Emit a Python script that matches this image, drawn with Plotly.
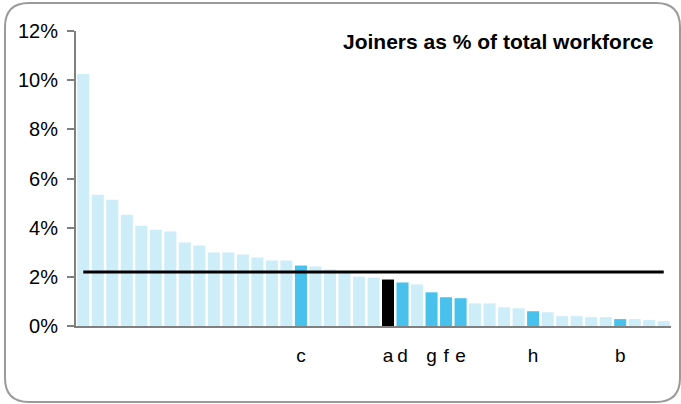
import plotly.graph_objects as go

# Joiners as a share of total workforce, one bar per organisation (sorted descending)
values = [10.25, 5.34, 5.14, 4.53, 4.08, 3.92, 3.84, 3.40, 3.27, 2.99,
          2.99, 2.91, 2.79, 2.66, 2.66, 2.46, 2.42, 2.30, 2.15, 2.01,
          1.97, 1.89, 1.77, 1.69, 1.37, 1.17, 1.13, 0.92, 0.92, 0.76,
          0.72, 0.60, 0.56, 0.40, 0.40, 0.36, 0.36, 0.28, 0.28, 0.24,
          0.20]
labels = ["", "", "", "", "", "", "", "", "", "",
          "", "", "", "", "", "c", "", "", "", "",
          "", "a", "d", "", "g", "f", "e", "", "", "",
          "", "h", "", "", "", "", "", "b", "", "",
          ""]
average = 2.2
y_ticks = [0, 2, 4, 6, 8, 10, 12]
y_tick_text = ["0%", "2%", "4%", "6%", "8%", "10%", "12%"]
title_text = "Joiners as % of total workforce"

LIGHT = "#CDEDF9"
HIGHLIGHT = "#48C1EC"
FOCUS = "#000000"

categories = [str(i) for i in range(len(values))]
colors = []
for lab in labels:
    if lab == "a":
        colors.append(FOCUS)
    elif lab:
        colors.append(HIGHLIGHT)
    else:
        colors.append(LIGHT)

W, H = 681, 404
ML, MR, MT, MB = 76, 10, 31, 78
PW, PH = W - ML - MR, H - MT - MB

fig = go.Figure()
fig.add_trace(go.Bar(x=categories, y=values, marker=dict(color=colors, line=dict(width=0)),
                     hoverinfo="y"))
fig.add_trace(go.Scatter(x=categories, y=[average] * len(categories), mode="lines",
                         line=dict(color="black", width=3), hoverinfo="skip"))


def px(x):
    return (x - ML) / PW


def py(y):
    return (MT + PH - y) / PH


# rounded frame around the whole chart, given in pixels and converted to paper units
x0, x1, y0, y1, r = 5, 680, 3, 402, 24
path = (f"M {px(x0 + r)},{py(y0)} L {px(x1 - r)},{py(y0)} "
        f"Q {px(x1)},{py(y0)} {px(x1)},{py(y0 + r)} "
        f"L {px(x1)},{py(y1 - r)} Q {px(x1)},{py(y1)} {px(x1 - r)},{py(y1)} "
        f"L {px(x0 + r)},{py(y1)} Q {px(x0)},{py(y1)} {px(x0)},{py(y1 - r)} "
        f"L {px(x0)},{py(y0 + r)} Q {px(x0)},{py(y0)} {px(x0 + r)},{py(y0)} Z")

fig.update_layout(
    width=W, height=H,
    margin=dict(l=ML, r=MR, t=MT, b=MB),
    paper_bgcolor="white", plot_bgcolor="white",
    showlegend=False,
    bargap=0.17,
    font=dict(family="Liberation Sans, Arial, sans-serif", color="black"),
    xaxis=dict(type="category", tickvals=categories, ticktext=labels,
               showgrid=False, showline=True, linecolor="#808080", linewidth=2,
               ticks="", tickfont=dict(size=19), ticklabelstandoff=11,
               tickangle=0, fixedrange=True),
    yaxis=dict(range=[0, 12], tickvals=y_ticks, ticktext=y_tick_text,
               showgrid=False, zeroline=False, showline=True, linecolor="#808080",
               linewidth=2, ticks="outside", ticklen=7, tickcolor="#808080",
               tickwidth=2, tickfont=dict(size=20), ticklabelstandoff=5,
               fixedrange=True),
    shapes=[dict(type="path", xref="paper", yref="paper", path=path,
                 line=dict(color="#9a9a9a", width=2), layer="above")],
    annotations=[dict(text=f"<b>{title_text}</b>", xref="paper", yref="paper",
                      x=px(655), y=py(42), xanchor="right", yanchor="middle",
                      showarrow=False, font=dict(size=21))],
)

fig.write_html("out.html")
